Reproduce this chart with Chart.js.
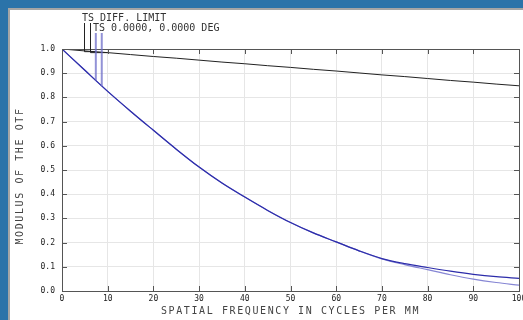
<!DOCTYPE html>
<html>
<head>
<meta charset="utf-8">
<script src="https://cdn.jsdelivr.net/npm/chart.js@4.4.1/dist/chart.umd.min.js"></script>
<style>
  html, body { margin: 0; padding: 0; background: #2b73a9; }
  #wrap { width: 523px; height: 320px; }
</style>
</head>
<body>
<div id="wrap"><canvas id="mtf" width="523" height="320"></canvas></div>
<script>
// MTF vs spatial frequency
const freqs = [0, 5, 10, 15, 20, 25, 30, 35, 40, 45, 50, 55, 60, 65, 70, 75, 80, 85, 90, 95, 100]
const diffLimit = [1.0, 0.992, 0.985, 0.977, 0.969, 0.962, 0.954, 0.946, 0.939, 0.931, 0.924,
                   0.916, 0.909, 0.901, 0.893, 0.886, 0.878, 0.870, 0.863, 0.855, 0.848]
const tanMtf = [1.0, 0.912, 0.825, 0.743, 0.664, 0.586, 0.512, 0.446, 0.388, 0.333, 0.283,
                0.240, 0.203, 0.166, 0.134, 0.113, 0.097, 0.082, 0.069, 0.059, 0.052]
const sagMtf = [1.0, 0.912, 0.825, 0.743, 0.664, 0.586, 0.512, 0.446, 0.388, 0.333, 0.283,
                0.240, 0.203, 0.166, 0.133, 0.109, 0.088, 0.067, 0.049, 0.035, 0.024]
const legendLines = ['TS DIFF. LIMIT', 'TS 0.0000, 0.0000 DEG']
// where the legend leaders touch the curves (freq, modulus)
const diffLeaderFreq = [7.4, 10]
const diffLeaderVal = [0.989, 0.985]
const fieldLeaderFreq = [7.4, 8.7]
const fieldLeaderVal = [0.870, 0.846]

const tickFont = { family: 'DejaVu Sans Mono', size: 8 }

const frame = {
  id: 'frame',
  beforeDraw(chart) {
    const ctx = chart.ctx
    ctx.save()
    ctx.fillStyle = '#2b73a9'
    ctx.fillRect(0, 0, 523, 320)
    ctx.fillStyle = '#ffffff'
    ctx.fillRect(8, 8, 515, 312)
    ctx.fillStyle = '#a5a5a5'
    ctx.fillRect(8, 8, 515, 2)
    ctx.fillRect(8, 8, 2, 312)
    ctx.restore()
  },
  afterDraw(chart) {
    const ctx = chart.ctx
    const a = chart.chartArea
    const xs = chart.scales.x, ys = chart.scales.y
    ctx.save()
    // box + inward ticks
    ctx.strokeStyle = '#555'
    ctx.lineWidth = 1
    ctx.strokeRect(Math.round(a.left) + 0.5, Math.round(a.top) + 0.5,
                   Math.round(a.right - a.left), Math.round(a.bottom - a.top))
    ctx.beginPath()
    xs.ticks.forEach(t => {
      const px = Math.round(xs.getPixelForValue(t.value)) + 0.5
      ctx.moveTo(px, a.bottom); ctx.lineTo(px, a.bottom - 5)
      ctx.moveTo(px, a.top); ctx.lineTo(px, a.top + 5)
    })
    ys.ticks.forEach(t => {
      const py = Math.round(ys.getPixelForValue(t.value)) + 0.5
      ctx.moveTo(a.left, py); ctx.lineTo(a.left + 5, py)
      ctx.moveTo(a.right, py); ctx.lineTo(a.right - 5, py)
    })
    ctx.stroke()

    // legend text
    ctx.fillStyle = '#333'
    ctx.font = '10px "DejaVu Sans Mono"'
    ctx.textBaseline = 'alphabetic'
    ctx.fillText(legendLines[0], 82, 21)
    ctx.fillText(legendLines[1], 93, 31)

    // diffraction leaders (black)
    ctx.strokeStyle = '#222'
    ctx.beginPath()
    const dx = [84.5, 90.5]
    diffLeaderFreq.forEach((f, i) => {
      const py = ys.getPixelForValue(diffLeaderVal[i])
      ctx.moveTo(dx[i], 23); ctx.lineTo(dx[i], py); ctx.lineTo(xs.getPixelForValue(f), py)
    })
    ctx.stroke()
    // field leaders (blue)
    ctx.strokeStyle = 'rgba(110,110,200,0.75)'
    ctx.lineWidth = 2
    ctx.beginPath()
    fieldLeaderFreq.forEach((f, i) => {
      const px = xs.getPixelForValue(f)
      ctx.moveTo(px, 33); ctx.lineTo(px, ys.getPixelForValue(fieldLeaderVal[i]))
    })
    ctx.stroke()

    // axis titles
    ctx.fillStyle = '#444'
    ctx.font = '10px "DejaVu Sans Mono"'
    ctx.letterSpacing = '1.6px'
    ctx.textAlign = 'center'
    ctx.textBaseline = 'middle'
    ctx.fillText('SPATIAL FREQUENCY IN CYCLES PER MM', (a.left + a.right) / 2, 311)
    ctx.translate(20, (a.top + a.bottom) / 2 + 6)
    ctx.rotate(-Math.PI / 2)
    ctx.fillText('MODULUS OF THE OTF', 0, 0)
    ctx.restore()
  }
}

new Chart(document.getElementById('mtf'), {
  type: 'line',
  data: {
    labels: freqs,
    datasets: [
      { label: 'DIFF. LIMIT', data: diffLimit, borderColor: '#222', borderWidth: 1 },
      { label: 'T', data: tanMtf, borderColor: '#2c2caa', borderWidth: 1.2 },
      { label: 'S', data: sagMtf, borderColor: '#8686d4', borderWidth: 1.2 }
    ]
  },
  options: {
    responsive: false,
    animation: false,
    devicePixelRatio: 1,
    elements: { point: { radius: 0 }, line: { cubicInterpolationMode: 'monotone' } },
    layout: { padding: { left: 8, top: 49, right: 4, bottom: 0 } },
    plugins: { legend: { display: false }, tooltip: { enabled: false }, title: { display: false } },
    scales: {
      x: {
        type: 'linear', min: 0, max: 100,
        ticks: { stepSize: 10, font: tickFont, color: '#222', padding: 3, maxRotation: 0,
                 callback: v => String(v) },
        grid: { color: '#e6e6e6', drawTicks: false },
        border: { display: true, color: '#555' },
        afterFit: s => { s.height = 29; s.paddingLeft = 0; s.paddingRight = 0 }
      },
      y: {
        min: 0, max: 1,
        ticks: { stepSize: 0.1, font: tickFont, color: '#222', padding: 7,
                 callback: v => v.toFixed(1) },
        grid: { color: '#e6e6e6', drawTicks: false },
        border: { display: true, color: '#555' },
        afterFit: s => { s.width = 54; s.paddingTop = 0; s.paddingBottom = 0 }
      }
    }
  },
  plugins: [frame]
})
</script>
</body>
</html>
